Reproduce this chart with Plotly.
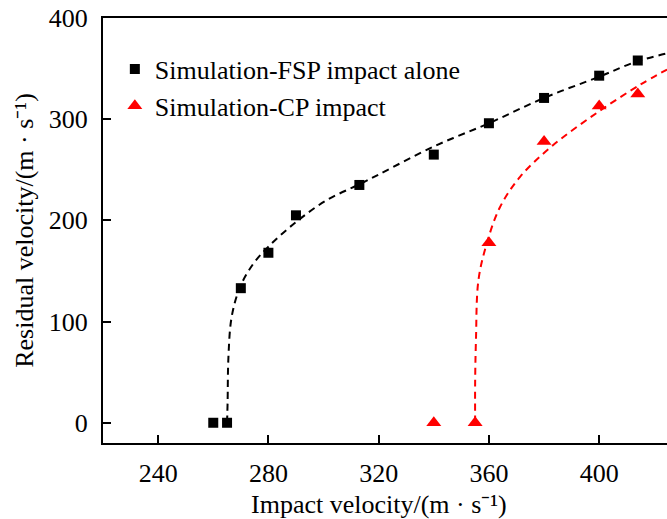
import plotly.graph_objects as go

# Simulation data
fsp_x = [260, 265, 270, 280, 290, 313, 340, 360, 380, 400, 414]
fsp_y = [0, 0, 133, 168, 205, 235, 265, 296, 321, 343, 358]
cp_x = [340, 355, 360, 380, 400, 414]
cp_y = [0, 0, 178, 278, 313, 325]

# Fitted (dashed) curves
fsp_fit_x = [265.0, 265.2, 265.5, 266.7, 269.7, 274.5, 280, 290.3, 301.2, 313.3, 320.5, 340, 360, 380, 400, 413.6, 424.6]
fsp_fit_y = [0, 20, 65, 105, 134, 157, 174, 199, 220, 236, 246, 273, 296, 321, 342, 357, 365]
cp_fit_x = [355.0, 355.0, 355.3, 356.2, 359.2, 364, 371.3, 382.7, 399, 414.8, 424.6]
cp_fit_y = [0, 40, 82, 141, 177, 213, 243, 273, 306, 334, 349]

x_ticks = [240, 280, 320, 360, 400]
y_ticks = [0, 100, 200, 300, 400]

FONT = "Liberation Serif"
FS = 26

fig = go.Figure()
fig.add_trace(go.Scatter(x=fsp_fit_x, y=fsp_fit_y, mode="lines", line=dict(color="black", width=2, dash="7px,5px", shape="spline"), showlegend=False, hoverinfo="skip"))
fig.add_trace(go.Scatter(x=cp_fit_x, y=cp_fit_y, mode="lines", line=dict(color="#ff0000", width=2, dash="7px,5px", shape="spline"), showlegend=False, hoverinfo="skip"))
fig.add_trace(go.Scatter(x=fsp_x, y=fsp_y, mode="markers", name="Simulation-FSP impact alone", marker=dict(symbol="square", size=10, color="black")))
fig.add_trace(go.Scatter(x=cp_x, y=cp_y, mode="markers", name="Simulation-CP impact", marker=dict(symbol="triangle-up", size=13, color="#ff0000")))

axis_common = dict(showline=True, linecolor="black", linewidth=2, ticks="inside", ticklen=8, tickwidth=2, tickcolor="black",
                   showgrid=False, zeroline=False, tickfont=dict(family=FONT, size=FS, color="black"))

fig.update_xaxes(range=[220, 424.6], tickvals=x_ticks, mirror=True, ticklabelstandoff=6, **axis_common)
fig.update_yaxes(range=[-20, 400], tickvals=y_ticks, ticklabelstandoff=8,
                 title=dict(text="Residual velocity/(m · s⁻¹)", font=dict(family=FONT, size=FS, color="black"), standoff=8),
                 **axis_common)

fig.add_annotation(text="Impact velocity/(m · s⁻¹)", xref="paper", yref="paper", x=0.49, y=-0.145,
                   xanchor="center", yanchor="middle", showarrow=False,
                   font=dict(family=FONT, size=FS, color="black"))

fig.update_layout(
    width=667, height=519,
    margin=dict(l=103, r=0, t=18, b=76),
    plot_bgcolor="white", paper_bgcolor="white",
    font=dict(family=FONT, size=FS, color="black"),
    legend=dict(x=0.021, y=0.935, xanchor="left", yanchor="top", bgcolor="rgba(0,0,0,0)",
                font=dict(family=FONT, size=FS, color="black"), itemwidth=30, tracegroupgap=0),
)

fig.write_html("out.html")
